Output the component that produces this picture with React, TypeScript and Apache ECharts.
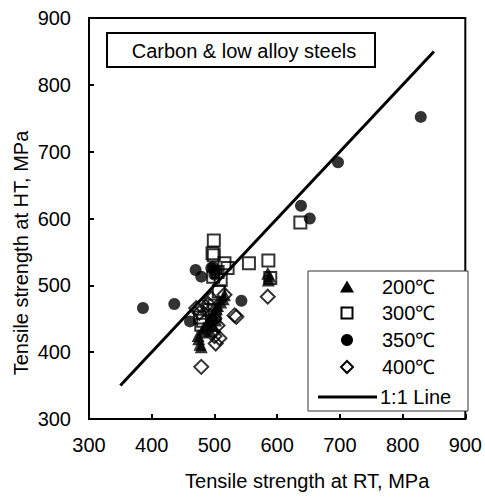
import React, { useEffect, useRef } from "react";
import * as echarts from "echarts";

const xTicks = [300, 400, 500, 600, 700, 800, 900];
const yTicks = [300, 400, 500, 600, 700, 800, 900];

const s200: number[][] = [
  [479, 408], [477, 412], [475, 420], [474, 425], [480, 430], [483, 436], [488, 442],
  [492, 450], [496, 455], [500, 460], [503, 465], [505, 470], [510, 475], [514, 480],
  [516, 486], [493, 432], [498, 440], [502, 448], [586, 508], [588, 514], [585, 518],
];
const s300: number[][] = [
  [499, 567], [497, 548], [499, 545], [516, 533], [521, 526], [555, 533], [586, 537],
  [637, 594], [498, 513], [510, 508], [589, 511], [507, 491], [477, 452], [479, 441],
  [492, 463], [500, 470], [505, 520], [482, 447], [500, 455],
];
const s350: number[][] = [
  [829, 752], [697, 684], [638, 619], [652, 600], [386, 466], [436, 472], [461, 446],
  [543, 477], [470, 523], [479, 513], [495, 526], [498, 527], [500, 516], [503, 522],
];
const s400: number[][] = [
  [479, 378], [502, 413], [508, 421], [500, 424], [535, 453], [532, 455], [585, 483],
  [516, 486], [479, 469], [476, 459], [471, 466], [490, 472], [495, 480], [500, 450],
  [505, 440], [498, 430],
];
const oneToOne: number[][] = [[350, 350], [850, 850]];

const legendLabels = ["200℃", "300℃", "350℃", "400℃", "1:1 Line"];
const titleText = "Carbon & low alloy steels";
const xName = "Tensile strength at RT, MPa";
const yName = "Tensile strength at HT, MPa";

const FONT = "'Liberation Sans', Arial, sans-serif";
const FS = 20;

export default function App() {
  const ref = useRef<HTMLDivElement>(null);
  useEffect(() => {
    if (!ref.current) return;
    const chart = echarts.init(ref.current, undefined, { renderer: "svg" });
    const legendY = [287, 313, 340, 367, 397];
    const mx = 347;
    const tx = 382;
    const textEl = (t: string, y: number, x: number = tx) => ({
      type: "text",
      x,
      y,
      style: { text: t, fontSize: FS, fontFamily: FONT, fill: "#000", verticalAlign: "middle", align: "left" },
      z: 20,
    });
    chart.setOption({
      animation: false,
      backgroundColor: "#fff",
      grid: { left: 89, right: 19, top: 18, bottom: 78, show: true, borderColor: "#000", borderWidth: 2, backgroundColor: "transparent" },
      xAxis: {
        type: "value",
        min: xTicks[0],
        max: xTicks[xTicks.length - 1],
        interval: 100,
        name: xName,
        nameLocation: "middle",
        nameGap: 52,
        nameTextStyle: { fontSize: FS, fontFamily: FONT, color: "#000", padding: [0, 0, 0, 60] },
        axisLine: { lineStyle: { color: "#000", width: 2 } },
        axisTick: { inside: true, length: 5, lineStyle: { color: "#000", width: 2 } },
        axisLabel: { fontSize: FS, fontFamily: FONT, color: "#000", margin: 16 },
        splitLine: { show: false },
      },
      yAxis: {
        type: "value",
        min: yTicks[0],
        max: yTicks[yTicks.length - 1],
        interval: 100,
        axisLine: { lineStyle: { color: "#000", width: 2 } },
        axisTick: { inside: true, length: 5, lineStyle: { color: "#000", width: 2 } },
        axisLabel: { fontSize: FS, fontFamily: FONT, color: "#000", margin: 18 },
        splitLine: { show: false },
      },
      series: [
        {
          name: legendLabels[0], type: "scatter", data: s200, symbol: "triangle", symbolSize: 13,
          itemStyle: { color: "#000" },
        },
        {
          name: legendLabels[1], type: "scatter", data: s300, symbol: "rect", symbolSize: 12,
          itemStyle: { color: "transparent", borderColor: "#000", borderWidth: 2 },
        },
        {
          name: legendLabels[2], type: "scatter", data: s350, symbol: "circle", symbolSize: 12,
          itemStyle: { color: "#000" },
        },
        {
          name: legendLabels[3], type: "scatter", data: s400, symbol: "diamond", symbolSize: 14,
          itemStyle: { color: "transparent", borderColor: "#000", borderWidth: 2 },
        },
        {
          name: legendLabels[4], type: "line", data: oneToOne, showSymbol: false, symbol: "none",
          lineStyle: { color: "#000", width: 3 }, z: 5,
        },
      ],
      graphic: [
        {
          type: "text", x: 21, y: 253, rotation: Math.PI / 2,
          style: { text: yName, fontSize: FS, fontFamily: FONT, fill: "#000", align: "center", verticalAlign: "middle" },
        },
        {
          type: "rect", shape: { x: 107, y: 33, width: 268, height: 34 },
          style: { fill: "#fff", stroke: "#000", lineWidth: 2 }, z: 10,
        },
        {
          type: "text", x: 244, y: 51,
          style: { text: titleText, fontSize: FS, fontFamily: FONT, fill: "#000", align: "center", verticalAlign: "middle" },
          z: 11,
        },
        {
          type: "rect", shape: { x: 308, y: 271, width: 160, height: 140 },
          style: { fill: "#fff", stroke: "#333", lineWidth: 1 }, z: 10,
        },
        {
          type: "polygon", shape: { points: [[mx, legendY[0] - 6.5], [mx + 7, legendY[0] + 5.5], [mx - 7, legendY[0] + 5.5]] },
          style: { fill: "#000" }, z: 20,
        },
        {
          type: "rect", shape: { x: mx - 5.5, y: legendY[1] - 5.5, width: 11, height: 11 },
          style: { fill: "none", stroke: "#000", lineWidth: 2 }, z: 20,
        },
        {
          type: "circle", shape: { cx: mx, cy: legendY[2], r: 6 },
          style: { fill: "#000" }, z: 20,
        },
        {
          type: "polygon", shape: { points: [[mx, legendY[3] - 6], [mx + 6, legendY[3]], [mx, legendY[3] + 6], [mx - 6, legendY[3]]] },
          style: { fill: "none", stroke: "#000", lineWidth: 2 }, z: 20,
        },
        {
          type: "line", shape: { x1: 318, y1: legendY[4], x2: 377, y2: legendY[4] },
          style: { stroke: "#000", lineWidth: 3 }, z: 20,
        },
        textEl(legendLabels[0], legendY[0]),
        textEl(legendLabels[1], legendY[1]),
        textEl(legendLabels[2], legendY[2]),
        textEl(legendLabels[3], legendY[3]),
        textEl(legendLabels[4], legendY[4], 380),
      ],
    });
    return () => chart.dispose();
  }, []);
  return <div ref={ref} style={{ position: "absolute", left: 0, top: 0, width: 485, height: 497 }} />;
}
